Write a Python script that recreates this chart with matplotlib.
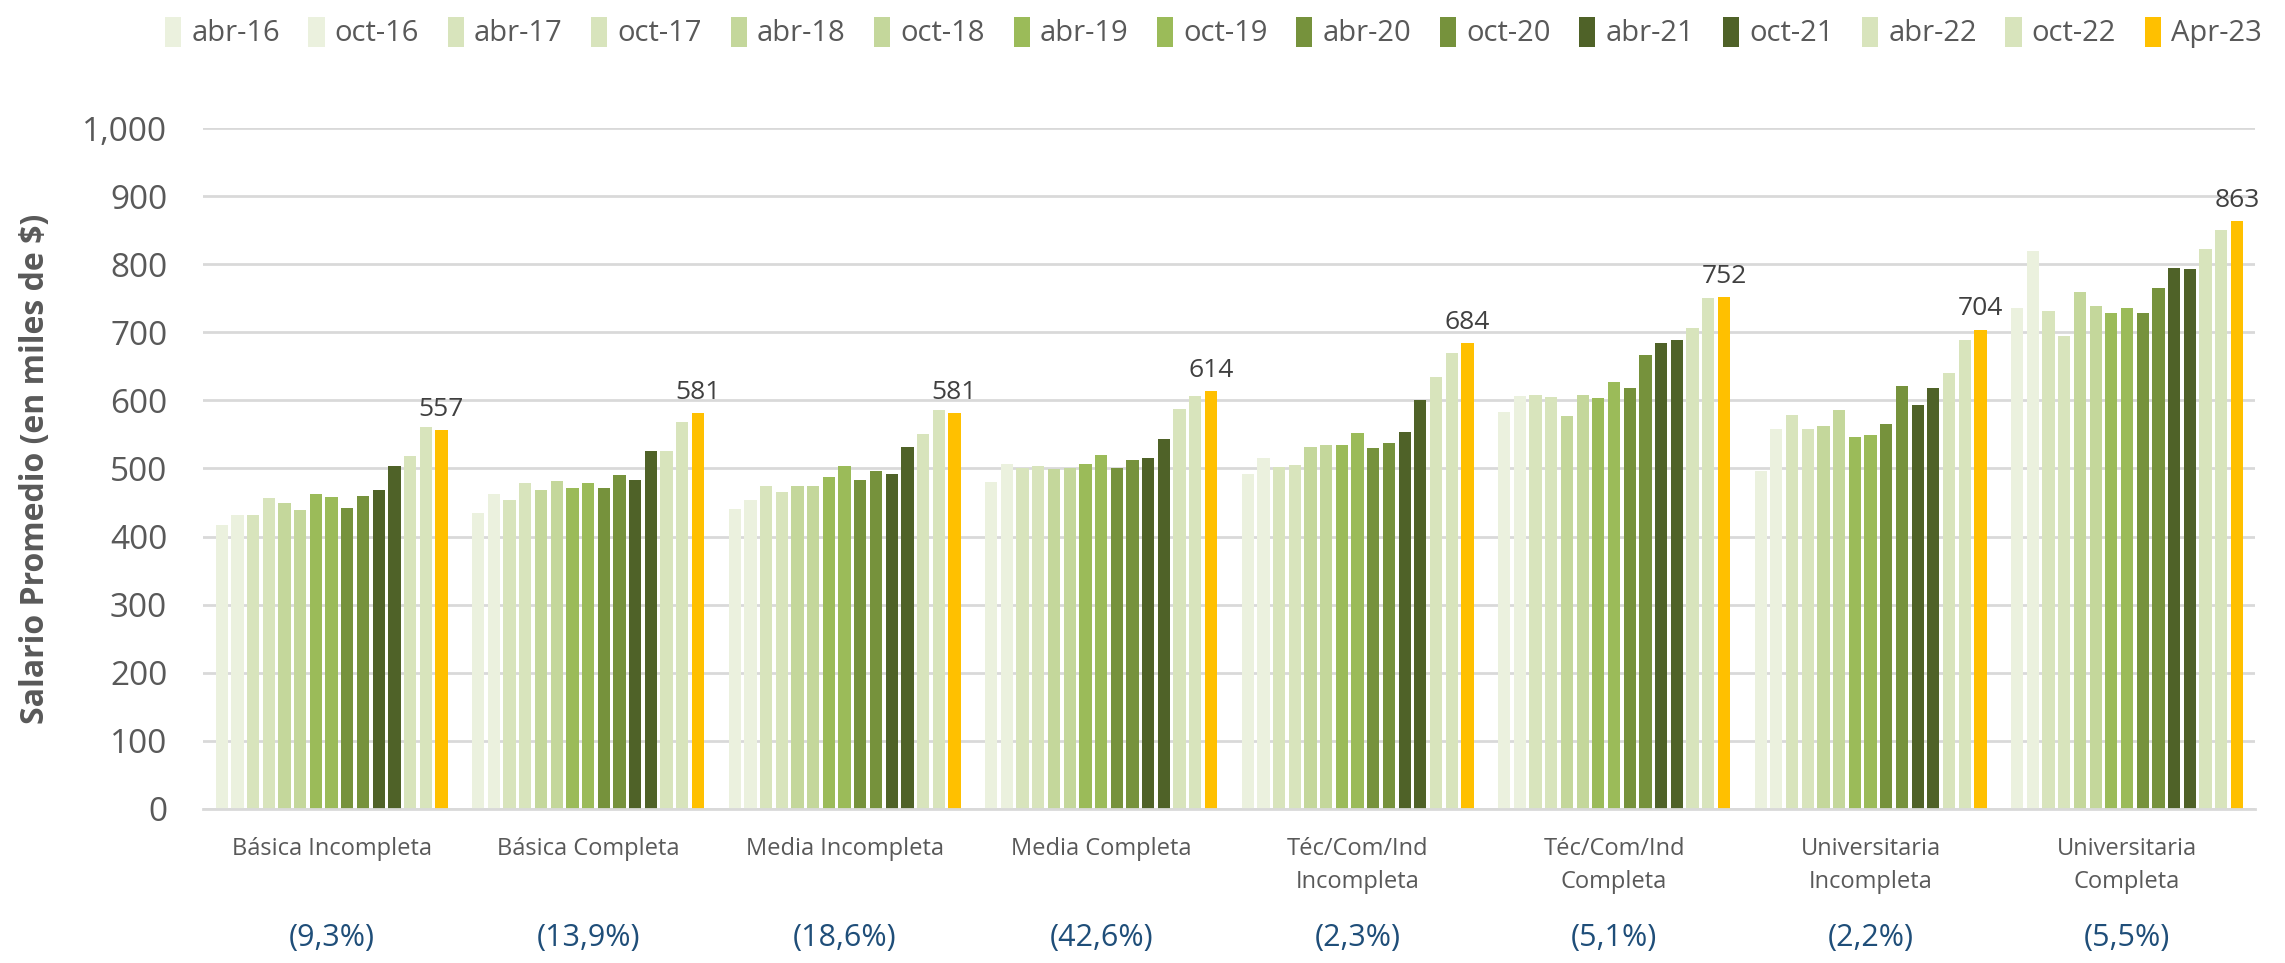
import matplotlib
matplotlib.use("Agg")
import matplotlib.pyplot as plt
import matplotlib.transforms as mtransforms
import numpy as np

plt.rcParams["font.family"] = ["Open Sans", "DejaVu Sans"]

periods = ["abr-16", "oct-16", "abr-17", "oct-17", "abr-18", "oct-18", "abr-19", "oct-19",
           "abr-20", "oct-20", "abr-21", "oct-21", "abr-22", "oct-22", "Apr-23"]
colors = ["#EBF1DE", "#EBF1DE", "#D8E4BC", "#D8E4BC", "#C4D79B", "#C4D79B", "#9BBB59", "#9BBB59",
          "#76923C", "#76923C", "#4F6228", "#4F6228", "#D8E4BC", "#D8E4BC", "#FFC000"]

categories = ["Básica Incompleta", "Básica Completa", "Media Incompleta", "Media Completa",
              "Téc/Com/Ind\nIncompleta", "Téc/Com/Ind\nCompleta", "Universitaria\nIncompleta",
              "Universitaria\nCompleta"]
shares = ["(9,3%)", "(13,9%)", "(18,6%)", "(42,6%)", "(2,3%)", "(5,1%)", "(2,2%)", "(5,5%)"]

# salario promedio por categoria, un valor por periodo
basica_inc = [417, 431, 431, 456, 450, 439, 462, 458, 442, 460, 469, 503, 518, 561, 557]
basica_comp = [434, 462, 453, 478, 469, 482, 471, 478, 472, 490, 483, 526, 526, 569, 581]
media_inc = [440, 453, 474, 466, 475, 475, 487, 503, 483, 496, 492, 532, 550, 586, 581]
media_comp = [480, 507, 501, 503, 499, 501, 507, 520, 501, 512, 516, 543, 588, 606, 614]
tec_inc = [492, 515, 502, 505, 532, 534, 535, 552, 530, 538, 554, 600, 634, 670, 684]
tec_comp = [583, 607, 608, 605, 577, 608, 604, 627, 618, 667, 685, 689, 706, 750, 752]
univ_inc = [496, 558, 578, 558, 562, 586, 546, 549, 565, 621, 594, 618, 640, 689, 704]
univ_comp = [736, 820, 731, 694, 759, 738, 729, 736, 729, 765, 794, 793, 822, 850, 863]

data = np.array([basica_inc, basica_comp, media_inc, media_comp,
                 tec_inc, tec_comp, univ_inc, univ_comp])

fig = plt.figure(figsize=(22.85, 9.63), dpi=100)
ax = fig.add_axes([0.089, 0.160, 0.898, 0.707])

x = np.arange(len(categories))
step = 0.0612
for j, (lab, col) in enumerate(zip(periods, colors)):
    bars = ax.bar(x + (j - 7) * step, data[:, j], step * 0.78, color=col, label=lab, zorder=2)
    if j == len(periods) - 1:
        for b in bars:
            ax.text(b.get_x() + b.get_width() / 2, b.get_height() + 12, f"{b.get_height():.0f}",
                    ha="center", va="bottom", fontsize=19, color="#404040")

ax.set_ylim(0, 1000)
ax.set_xlim(-0.5, len(categories) - 0.5)
ax.set_yticks(np.arange(0, 1001, 100))
ax.set_yticklabels([f"{v:,}" for v in range(0, 1001, 100)], fontsize=24, color="#595959")
ax.set_xticks(x)
ax.set_xticklabels(categories, fontsize=17, color="#595959", linespacing=1.5, va="top")
ax.tick_params(axis="both", length=0)
ax.tick_params(axis="x", pad=20)
ax.tick_params(axis="y", pad=26)
ax.grid(axis="y", color="#D9D9D9", linewidth=2, zorder=0)
for s in ["top", "right", "left"]:
    ax.spines[s].set_visible(False)
ax.spines["bottom"].set_color("#D9D9D9")
ax.spines["bottom"].set_linewidth(2)

ax.set_ylabel("Salario Promedio (en miles de $)", fontsize=23, fontweight="bold", color="#595959")
ax.yaxis.set_label_coords(-0.074, 0.5)

trans = mtransforms.blended_transform_factory(ax.transData, fig.transFigure)
for xi, s in zip(x, shares):
    ax.text(xi, 0.026, s, transform=trans, ha="center", va="center", fontsize=22, color="#1F4E79")

fig.legend(loc="upper center", bbox_to_anchor=(0.531, 1.01), ncol=len(periods), frameon=False,
           fontsize=21, handlelength=0.55, handleheight=1.2, handletextpad=0.35, columnspacing=0.98,
           labelcolor="#595959")

fig.savefig("out.png", dpi=100)
